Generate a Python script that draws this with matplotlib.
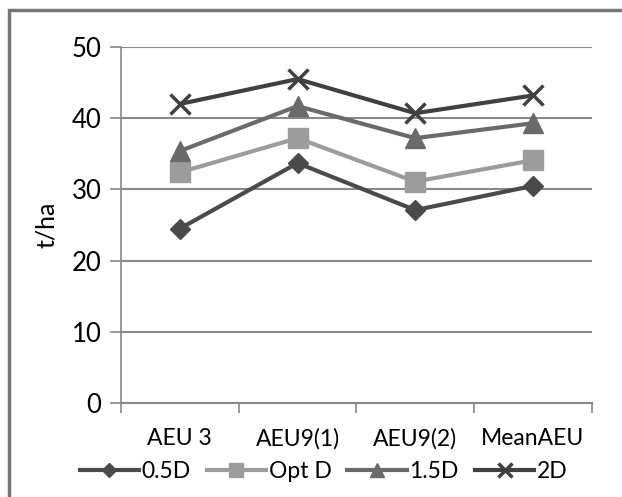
import matplotlib.pyplot as plt
from matplotlib.patches import Rectangle

categories = ["AEU 3", "AEU9(1)", "AEU9(2)", "MeanAEU"]
d05 = [24.5, 33.7, 27.1, 30.5]
opt_d = [32.4, 37.2, 31.1, 34.1]
d15 = [35.4, 41.7, 37.2, 39.3]
d2 = [42.0, 45.5, 40.7, 43.2]

plt.rcParams['font.family'] = ['Lato', 'DejaVu Sans']

fig = plt.figure(figsize=(6.22, 4.97), dpi=100)
ax = fig.add_axes([0.1945, 0.189, 0.757, 0.7164])

x = range(len(categories))
ax.plot(x, d05, color="#4a4a4a", lw=3, marker="D", ms=10, label="0.5D", zorder=3)
ax.plot(x, opt_d, color="#9c9c9c", lw=3, marker="s", ms=14, label="Opt D", zorder=3)
ax.plot(x, d15, color="#6a6a6a", lw=3, marker="^", ms=14, label="1.5D", zorder=3)
ax.plot(x, d2, color="#404040", lw=3, marker="x", ms=14, mew=2.5, label="2D", zorder=3)

ax.set_xlim(-0.5, 3.5)
ax.set_ylim(0, 50)
ax.set_yticks(range(0, 51, 10))
ax.set_xticks([i - 0.5 for i in range(5)], minor=False)
ax.set_xticklabels([])
ax.set_xticks(list(x), minor=True)
ax.set_xticklabels(categories, minor=True, fontsize=16.5)
ax.tick_params(axis="x", which="minor", length=0, pad=18)
ax.tick_params(axis="x", which="major", length=7, width=1.2, color="#888888", direction="out")
ax.tick_params(axis="y", length=8, width=1.2, color="#888888", labelsize=18.5, pad=6)
ax.grid(axis="y", color="#888888", lw=1.5)
ax.set_axisbelow(True)
for s in ["top", "right"]:
    ax.spines[s].set_visible(False)
ax.spines["left"].set_color("#888888")
ax.spines["bottom"].set_color("#888888")
ax.spines["left"].set_linewidth(1.2)
ax.spines["bottom"].set_linewidth(1.5)
ax.set_ylabel("t/ha", fontsize=18, labelpad=10)

fig.legend(loc="center", bbox_to_anchor=(0.52, 0.052), ncol=4, frameon=False,
           fontsize=16.5, handlelength=2.6, handletextpad=0.1, columnspacing=0.7,
           markerscale=0.75)

fig.patches.append(Rectangle((9 / 622, -0.1), 1.2, 1 - 10 / 497 + 0.1,
                             transform=fig.transFigure, fill=False,
                             edgecolor="#777777", lw=2.5, clip_on=False))

fig.savefig("out.png", dpi=100)
